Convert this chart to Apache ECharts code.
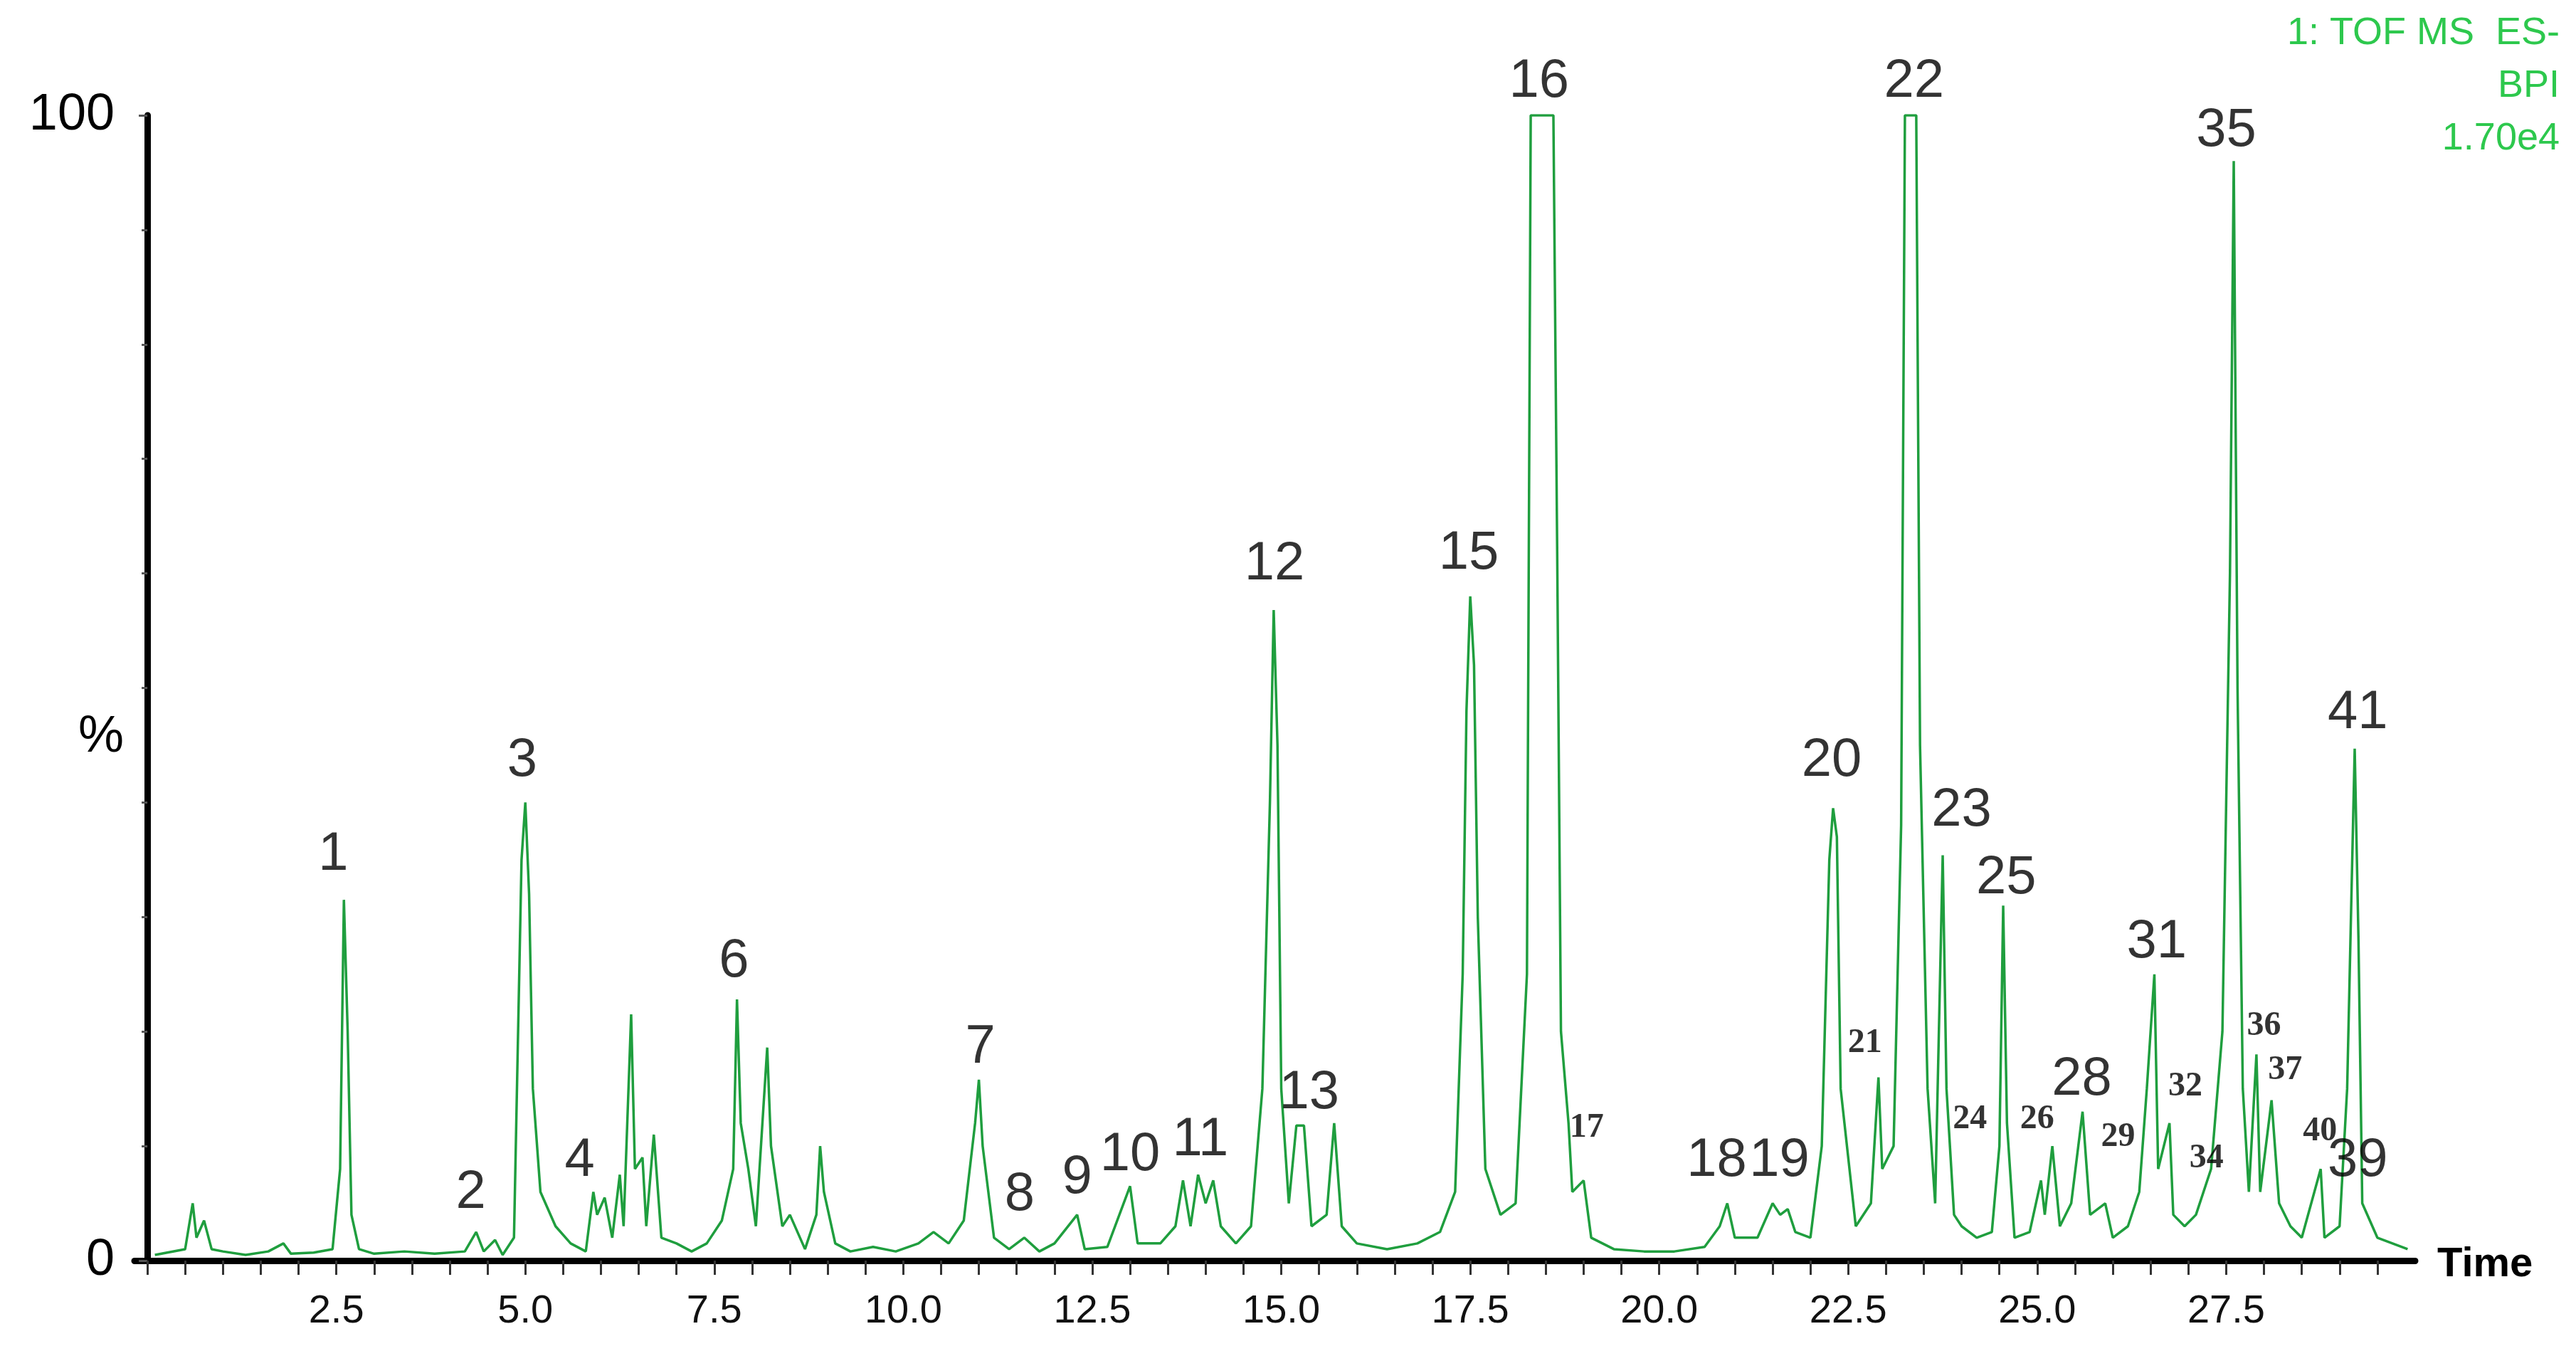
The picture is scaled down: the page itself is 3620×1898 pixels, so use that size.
<!DOCTYPE html>
<html><head><meta charset="utf-8">
<script src="https://cdn.jsdelivr.net/npm/echarts@6/dist/echarts.min.js"></script>
<style>html,body{margin:0;padding:0;background:#fff}#c{width:3620px;height:1898px}</style>
</head><body><div id="c"></div>
<script>
const trace = [[0.1,.5],[0.5,1],[0.6,5],[0.65,2],[0.75,3.5],[0.85,1],[1.0,.8],[1.3,.5],[1.6,.8],[1.8,1.5],[1.9,.6],[2.2,.7],[2.45,1],[2.55,8],[2.6,31.5],[2.65,20],[2.7,4],[2.8,1],[3.0,.6],[3.4,.8],[3.8,.6],[4.2,.8],[4.35,2.5],[4.45,.8],[4.6,1.8],[4.7,.5],[4.85,2],[4.95,35],[5.0,40],[5.05,32],[5.1,15],[5.2,6],[5.4,3],[5.6,1.5],[5.8,.8],[5.9,6],[5.95,4],[6.05,5.5],[6.15,2],[6.25,7.5],[6.3,3],[6.4,21.5],[6.45,8],[6.55,9],[6.6,3],[6.7,11],[6.8,2],[7.0,1.5],[7.2,.8],[7.4,1.5],[7.6,3.5],[7.75,8],[7.8,22.8],[7.85,12],[7.95,8],[8.05,3],[8.2,18.6],[8.25,10],[8.4,3],[8.5,4],[8.7,1],[8.85,4],[8.9,10],[8.95,6],[9.1,1.5],[9.3,.8],[9.6,1.2],[9.9,.8],[10.2,1.5],[10.4,2.5],[10.6,1.5],[10.8,3.5],[10.95,12],[11.0,15.8],[11.05,10],[11.2,2],[11.4,1],[11.6,2],[11.8,.8],[12.0,1.5],[12.3,4],[12.4,1],[12.7,1.2],[13.0,6.5],[13.1,1.5],[13.4,1.5],[13.6,3],[13.7,7],[13.8,3],[13.9,7.5],[14.0,5],[14.1,7],[14.2,3],[14.4,1.5],[14.6,3],[14.75,15],[14.85,40],[14.9,56.8],[14.95,45],[15.0,15],[15.1,5],[15.2,11.8],[15.3,11.8],[15.4,3],[15.6,4],[15.7,12],[15.8,3],[16.0,1.5],[16.4,1],[16.8,1.5],[17.1,2.5],[17.3,6],[17.4,25],[17.45,48],[17.5,58],[17.55,52],[17.6,30],[17.7,8],[17.9,4],[18.1,5],[18.25,25],[18.3,100],[18.6,100],[18.65,62],[18.7,20],[18.8,12],[18.85,6],[19.0,7],[19.1,2],[19.4,1],[19.8,.8],[20.2,.8],[20.6,1.2],[20.8,3],[20.9,5],[21.0,2],[21.3,2],[21.5,5],[21.6,4],[21.7,4.5],[21.8,2.5],[22.0,2],[22.15,10],[22.25,35],[22.3,39.5],[22.35,37],[22.4,15],[22.6,3],[22.8,5],[22.9,16],[22.95,8],[23.1,10],[23.2,38],[23.25,100],[23.4,100],[23.45,45],[23.55,15],[23.65,5],[23.75,35.4],[23.8,15],[23.9,4],[24.0,3],[24.2,2],[24.4,2.5],[24.5,10],[24.55,31],[24.6,12],[24.7,2],[24.9,2.5],[25.05,7],[25.1,4],[25.2,10],[25.3,3],[25.45,5],[25.6,13],[25.7,4],[25.9,5],[26.0,2],[26.2,3],[26.35,6],[26.45,15],[26.55,25],[26.6,8],[26.75,12],[26.8,4],[26.95,3],[27.1,4],[27.3,8],[27.45,20],[27.55,60],[27.6,96],[27.65,50],[27.72,15],[27.8,6],[27.9,18],[27.95,6],[28.1,14],[28.2,5],[28.35,3],[28.5,2],[28.75,8],[28.8,2],[29.0,3],[29.1,15],[29.2,44.7],[29.25,28],[29.3,5],[29.5,2],[29.7,1.5],[29.9,1]];
const labelText = ['1','2','3','4','6','7','8','9','10','11','12','13','15','16','17','18','19','20','21','22','23','24','25','26','28','29','31','32','34','35','36','37','40','39','41'];
const labelTime = [2.46,4.28,4.96,5.72,7.76,11.02,11.54,12.3,13.0,13.93,14.91,15.37,17.48,18.41,19.04,20.76,21.59,22.28,22.72,23.37,24.0,24.11,24.59,25.0,25.59,26.07,26.58,26.96,27.24,27.5,28.0,28.28,28.74,29.24,29.24];
const labelPos = [35.4,5.9,43.6,8.7,26.1,18.6,5.7,7.2,9.2,10.5,60.8,14.6,61.7,102.9,11.6,8.7,8.7,43.6,19.0,102.9,39.3,12.3,33.4,12.3,15.8,10.8,27.8,15.2,8.9,98.6,20.5,16.6,11.3,8.7,47.8];
const serifLabels = ['17','21','24','26','29','32','34','36','37','40'];
const xTickLabels = [2.5,5,7.5,10,12.5,15,17.5,20,22.5,25,27.5];
const xTickMarks = [0,0.5,1,1.5,2,2.5,3,3.5,4,4.5,5,5.5,6,6.5,7,7.5,8,8.5,9,9.5,10,10.5,11,11.5,12,12.5,13,13.5,14,14.5,15,15.5,16,16.5,17,17.5,18,18.5,19,19.5,20,20.5,21,21.5,22,22.5,23,23.5,24,24.5,25,25.5,26,26.5,27,27.5,28,28.5,29,29.5];

const labelData = labelText.map((t,i)=>{
  const serif = serifLabels.includes(t);
  return {value:[labelTime[i],labelPos[i]], label:{show:true,position:'inside',formatter:t,
    fontFamily: serif?'Liberation Serif':'Liberation Sans', fontWeight: serif?'bold':'normal',
    fontSize: serif?48:76, color:'#000'}};
});
const green = '#2dc84d';
const chart = echarts.init(document.getElementById('c'));
chart.setOption({
  animation:false,
  grid:{left:189,right:226,top:162,bottom:127,outerBoundsMode:'none',containLabel:false},
  xAxis:{type:'value',min:-0.17,max:30,
    axisLine:{lineStyle:{color:'#000',width:9}},
    axisTick:{length:20,customValues:xTickMarks,lineStyle:{color:'#333',width:3}},
    splitLine:{show:false},
    axisLabel:{fontSize:56,color:'#111',fontFamily:'Liberation Sans',margin:44,customValues:xTickLabels,
      formatter:v=>v.toFixed(1)}},
  yAxis:{type:'value',min:0,max:100,interval:100,
    axisLine:{show:true,lineStyle:{color:'#000',width:9}},
    axisTick:{show:true,length:12,lineStyle:{color:'#555',width:3}},
    minorTick:{show:true,splitNumber:10,length:8,lineStyle:{color:'#555',width:3}},
    splitLine:{show:false},
    axisLabel:{fontSize:72,color:'#000',fontFamily:'Liberation Sans',margin:28}},
  series:[
    {type:'line',data:trace,symbol:'none',lineStyle:{color:'#1f9e3e',width:3.5},z:2},
    {type:'scatter',data:labelData,symbolSize:1,itemStyle:{color:'rgba(0,0,0,0)'},clip:false,z:3}
  ],
  graphic:[
    {type:'text',left:110,top:1000,style:{text:'%',fontSize:72,fontFamily:'Liberation Sans',fill:'#000'}},
    {type:'text',left:3425,top:1748,style:{text:'Time',fontSize:58,fontWeight:'bold',fontFamily:'Liberation Sans',fill:'#000'}},
    {type:'text',x:3597,y:20,style:{text:'1: TOF MS  ES-',textAlign:'right',fontSize:54,fontFamily:'Liberation Sans',fill:green}},
    {type:'text',x:3597,y:94,style:{text:'BPI',textAlign:'right',fontSize:54,fontFamily:'Liberation Sans',fill:green}},
    {type:'text',x:3597,y:168,style:{text:'1.70e4',textAlign:'right',fontSize:54,fontFamily:'Liberation Sans',fill:green}}
  ]
});
</script></body></html>
